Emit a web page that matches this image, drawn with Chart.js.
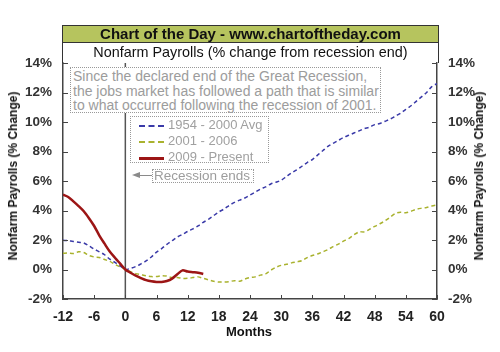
<!DOCTYPE html>
<html>
<head>
<meta charset="utf-8">
<script src="https://cdn.jsdelivr.net/npm/chart.js@4"></script>
<style>
  html, body { margin: 0; padding: 0; background: #fff; }
  #wrap { position: relative; width: 500px; height: 352px; font-family: "Liberation Sans", Arial, sans-serif; }
  #c { position: absolute; left: 0; top: 0; }
  .abs { position: absolute; }
  #titlebox { left: 62px; top: 25px; width: 375px; height: 37px; border: 1px solid #333; border-bottom: none; box-sizing: content-box; }
  #t1 { height: 16px; background: #b6c45e; border-bottom: 1px solid #333; text-align: center; font-weight: bold; font-size: 15px; line-height: 16px; color: #111; }
  #t2 { height: 20px; text-align: center; font-size: 14.4px; line-height: 19px; color: #111; }
  .note { border: 1px dotted #999; background: #fff; color: #9c9c9c; box-sizing: border-box; }
  #ann { left: 70px; top: 67px; width: 311px; height: 46px; font-size: 14px; line-height: 14.5px; padding: 1px 0 0 2px; white-space: nowrap; }
  #leg { left: 130px; top: 116px; width: 139px; height: 47px; }
  .li { position: absolute; left: 37px; font-size: 13px; color: #a0a0a0; white-space: nowrap; }
  .ls { position: absolute; left: 8px; width: 25px; height: 0; }
  #rec { left: 152px; top: 169px; width: 102px; height: 14px; line-height: 12px; padding-left: 1px; font-size: 13.5px; white-space: nowrap; }
  .ytitle { font-weight: bold; font-size: 12px; color: #111; white-space: nowrap; transform: translate(-50%, -50%) rotate(-90deg); }
  #xt { left: 249px; top: 331px; transform: translate(-50%, -50%); font-weight: bold; font-size: 13px; color: #111; }
</style>
</head>
<body>
<div id="wrap">
  <canvas id="c" width="500" height="352"></canvas>
  <div id="titlebox" class="abs">
    <div id="t1">Chart of the Day - www.chartoftheday.com</div>
    <div id="t2">Nonfarm Payrolls (% change from recession end)</div>
  </div>
  <div id="ann" class="abs note">Since the declared end of the Great Recession,<br>the jobs market has followed a path that is similar<br>to what occurred following the recession of 2001.</div>
  <div id="leg" class="abs note">
    <div class="ls" style="top:8px;border-top:2px dashed #3a3aa8;"></div>
    <div class="li" style="top:0px;">1954 - 2000 Avg</div>
    <div class="ls" style="top:24px;border-top:2px dashed #a9b22e;"></div>
    <div class="li" style="top:16px;">2001 - 2006</div>
    <div class="ls" style="top:40px;border-top:3px solid #9c1515;"></div>
    <div class="li" style="top:32px;">2009 - Present</div>
  </div>
  <div class="abs" style="left:138px;top:175px;width:14px;height:0;border-top:1.5px solid #8a8a8a;"></div>
  <div class="abs" style="left:132px;top:172px;width:0;height:0;border-top:3.5px solid transparent;border-bottom:3.5px solid transparent;border-right:8px solid #8a8a8a;"></div>
  <div id="rec" class="abs note">Recession ends</div>
  <div class="abs ytitle" style="left:13px;top:176px;">Nonfarm Payrolls (% Change)</div>
  <div class="abs ytitle" style="left:479px;top:176px;">Nonfarm Payrolls (% Change)</div>
  <div id="xt" class="abs">Months</div>
</div>
<script>
// ---- data ----
const months = [-12,-11,-10,-9,-8,-7,-6,-5,-4,-3,-2,-1,0,1,2,3,4,5,6,7,8,9,10,11,12,13,14,15,16,17,18,19,20,21,22,23,24,25,26,27,28,29,30,31,32,33,34,35,36,37,38,39,40,41,42,43,44,45,46,47,48,49,50,51,52,53,54,55,56,57,58,59,60];
const avg1954_2000 = [1.98,1.95,1.9,1.85,1.8,1.6,1.38,1.2,1.0,0.7,0.48,0.25,0,0.08,0.2,0.38,0.58,0.85,1.18,1.42,1.7,1.95,2.2,2.38,2.58,2.75,2.95,3.2,3.4,3.65,3.9,4.1,4.35,4.55,4.7,4.85,5.05,5.25,5.45,5.6,5.8,5.92,6.05,6.3,6.55,6.75,7.0,7.25,7.45,7.75,8.05,8.35,8.55,8.75,8.95,9.1,9.25,9.4,9.55,9.65,9.82,9.9,10.05,10.2,10.4,10.6,10.85,11.1,11.4,11.7,12.0,12.4,12.6];
const rec2001_2006 = [1.1,1.12,1.08,1.2,1.15,0.95,0.85,0.82,0.68,0.55,0.35,0.18,0,-0.15,-0.28,-0.35,-0.42,-0.48,-0.48,-0.42,-0.45,-0.55,-0.55,-0.6,-0.6,-0.55,-0.5,-0.6,-0.7,-0.8,-0.85,-0.85,-0.82,-0.76,-0.8,-0.65,-0.55,-0.5,-0.38,-0.3,-0.05,0.15,0.28,0.35,0.45,0.52,0.6,0.8,0.95,1.05,1.2,1.35,1.55,1.72,1.92,2.1,2.35,2.55,2.55,2.72,2.92,3.1,3.3,3.55,3.8,3.88,3.85,3.95,4.08,4.15,4.2,4.3,4.38];
const rec2009_present = [5.07,4.92,4.62,4.3,3.95,3.48,2.95,2.3,1.75,1.22,0.8,0.4,0,-0.22,-0.42,-0.58,-0.72,-0.8,-0.84,-0.84,-0.78,-0.62,-0.32,-0.06,-0.14,-0.18,-0.22,-0.3];
const xTicks = [-12,-6,0,6,12,18,24,30,36,42,48,54,60];
const yTicks = [-2,0,2,4,6,8,10,12,14];

const pts = (arr) => arr.map((v, i) => ({ x: months[i], y: v }));

const overlay = {
  id: 'overlay',
  afterDatasetsDraw(chart) {
    const { ctx, chartArea: a, scales } = chart;
    ctx.save();
    ctx.strokeStyle = '#444';
    ctx.lineWidth = 1;
    xTicks.forEach(t => {
      const x = Math.round(scales.x.getPixelForValue(t)) + 0.5;
      ctx.beginPath(); ctx.moveTo(x, a.bottom); ctx.lineTo(x, a.bottom - 4); ctx.stroke();
    });
    yTicks.forEach(t => {
      const y = Math.round(scales.y.getPixelForValue(t)) + 0.5;
      ctx.beginPath(); ctx.moveTo(a.left, y); ctx.lineTo(a.left + 5, y); ctx.stroke();
      const y2 = Math.round(scales.y2.getPixelForValue(t)) + 0.5;
      ctx.beginPath(); ctx.moveTo(a.right, y2); ctx.lineTo(a.right - 5, y2); ctx.stroke();
    });
    ctx.restore();
  },
  beforeDatasetsDraw(chart) {
    const { ctx, chartArea: a, scales } = chart;
    ctx.save();
    ctx.strokeStyle = '#555';
    ctx.lineWidth = 1.5;
    const x0 = scales.x.getPixelForValue(0);
    ctx.beginPath(); ctx.moveTo(x0, a.top); ctx.lineTo(x0, a.bottom); ctx.stroke();
    ctx.restore();
  }
};

const yFont = { family: '"Liberation Sans", Arial, sans-serif', size: 13.5, weight: 'bold' };
const xFont = { family: '"Liberation Sans", Arial, sans-serif', size: 14, weight: 'bold' };

new Chart(document.getElementById('c'), {
  type: 'line',
  data: {
    datasets: [
      { label: '2009 - Present', data: pts(rec2009_present), borderColor: '#9c1515', borderWidth: 2.5, pointRadius: 0, tension: 0.3, yAxisID: 'y' },
      { label: '1954 - 2000 Avg', data: pts(avg1954_2000), borderColor: '#3a3aa8', borderWidth: 1.5, borderDash: [4, 3], pointRadius: 0, tension: 0.3, yAxisID: 'y' },
      { label: '2001 - 2006', data: pts(rec2001_2006), borderColor: '#a9b22e', borderWidth: 1.5, borderDash: [4, 3], pointRadius: 0, tension: 0.3, yAxisID: 'y' }
    ]
  },
  options: {
    responsive: false,
    animation: false,
    layout: { padding: { top: 63, left: 0, right: 0, bottom: 0 } },
    plugins: { legend: { display: false }, tooltip: { enabled: false }, title: { display: false } },
    scales: {
      x: {
        type: 'linear', min: -12, max: 60,
        afterBuildTicks: (s) => { s.ticks = xTicks.map(v => ({ value: v })); },
        afterFit: (s) => { s.height = 53; },
        grid: { display: false, drawTicks: false },
        border: { display: true, color: '#444', width: 1.5 },
        ticks: { color: '#222', font: xFont, padding: 10, maxRotation: 0, autoSkip: false }
      },
      y: {
        position: 'left', min: -2, max: 14,
        afterBuildTicks: (s) => { s.ticks = yTicks.map(v => ({ value: v })); },
        afterFit: (s) => { s.width = 63; },
        grid: { display: false, drawTicks: false },
        border: { display: true, color: '#444', width: 1.5 },
        ticks: { color: '#333', font: yFont, padding: 11, callback: v => v + '%' }
      },
      y2: {
        position: 'right', min: -2, max: 14,
        afterBuildTicks: (s) => { s.ticks = yTicks.map(v => ({ value: v })); },
        afterFit: (s) => { s.width = 63; },
        grid: { display: false, drawTicks: false },
        border: { display: true, color: '#444', width: 1.5 },
        ticks: { color: '#333', font: yFont, padding: 11, callback: v => v + '%' }
      }
    }
  },
  plugins: [overlay]
});
</script>
</body>
</html>
